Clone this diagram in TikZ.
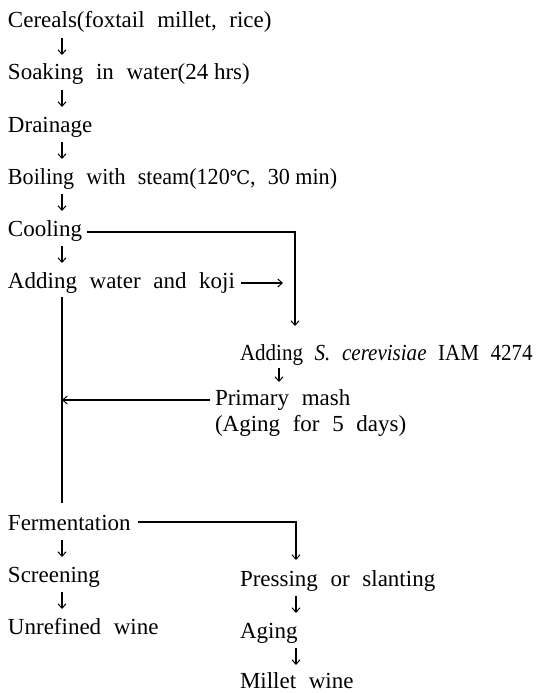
\documentclass[tikz,border=0pt]{standalone}
\usepackage{fontspec}
\setmainfont{Liberation Serif}
\newfontfamily\degfont{DejaVu Serif}
\usetikzlibrary{arrows.meta}
\newcommand\myfont{\fontsize{23}{27}\selectfont\spaceskip=0.55em plus 0.1em\relax}
\newcommand\ns{\hspace{0.25em}}
\begin{document}
\begin{tikzpicture}[x=1pt,y=-1pt,
  txt/.style={anchor=base west,inner sep=0pt,outer sep=0pt,font=\myfont},
  ln/.style={line width=1.1pt},
  arr/.style={ln,-{Straight Barb[length=4.5pt,width=8pt,line width=1pt]}}]
\useasboundingbox (0,0) rectangle (536,693);
% left column
\node[txt] (cer) at (8,28) {Cereals(foxtail millet, rice)};
\node[txt] (soak) at (8,80) {Soaking in water(24\ns hrs)};
\node[txt] (drain) at (8,132) {Drainage};
\node[txt] (boil) at (8,184) {\scalebox{0.96}[1]{Boiling with steam(120{\degfont\fontsize{19}{23}\selectfont ℃}, 30\ns min)}};
\node[txt] (cool) at (8,236) {Cooling};
\node[txt] (koji) at (8,288) {Adding water and koji};
\node[txt] (ferm) at (8,530) {Fermentation};
\node[txt] (scr) at (8,582) {Screening};
\node[txt] (unref) at (8,634) {Unrefined wine};
% right column
\node[txt] (yeast) at (240,360) {\scalebox{0.915}[1]{Adding \textit{S. cerevisiae} IAM 4274}};
\node[txt] (mash) at (215,405) {Primary mash};
\node[txt] (mash2) at (215,431) {(Aging for 5 days)};
\node[txt] (press) at (240,586) {Pressing or slanting};
\node[txt] (aging) at (240,638) {Aging};
\node[txt] (mil) at (240,688) {Millet wine};
% short down arrows, left column
\foreach \a/\b in {cer/soak,soak/drain,drain/boil,boil/cool,cool/koji,ferm/scr,scr/unref}{
  \draw[arr] ([xshift=54pt,yshift=-10pt]\a.base west) -- ([xshift=54pt,yshift=25pt]\b.base west);
}
% helper coordinates
\coordinate (ytop) at ([yshift=34pt]yeast.base west);
\coordinate (ybot) at ([xshift=39pt,yshift=-8pt]yeast.base west);
\coordinate (mtop) at ([yshift=23pt]mash.base west);
\coordinate (mlev) at ([yshift=5pt]mash.base west);
\coordinate (ptop) at ([yshift=26pt]press.base west);
% right column short arrows
\draw[arr] (ybot) -- (ybot |- mtop);
\draw[arr] ([xshift=56pt,yshift=-10pt]press.base west) -- ([xshift=56pt,yshift=25pt]aging.base west);
\draw[arr] ([xshift=56pt,yshift=-10pt]aging.base west) -- ([xshift=56pt,yshift=23pt]mil.base west);
% cooling branch
\coordinate (c1) at (295,232);
\draw[arr] ([xshift=5pt,yshift=4pt]cool.base east) -- (c1) -- (c1 |- ytop);
% koji arrow
\coordinate (kend) at (283,283);
\draw[arr] ([xshift=6pt,yshift=5pt]koji.base east) -- (kend);
% main vertical line with primary mash return
\coordinate (v1) at (62,297);
\coordinate (v2) at (62,503);
\draw[ln] (v1) -- (v2);
\draw[arr] ([xshift=-5pt]mlev) -- (v1 |- mlev);
% fermentation branch
\coordinate (f1) at (296,522);
\draw[arr] ([xshift=7pt,yshift=8pt]ferm.base east) -- (f1) -- (f1 |- ptop);
\end{tikzpicture}
\end{document}
